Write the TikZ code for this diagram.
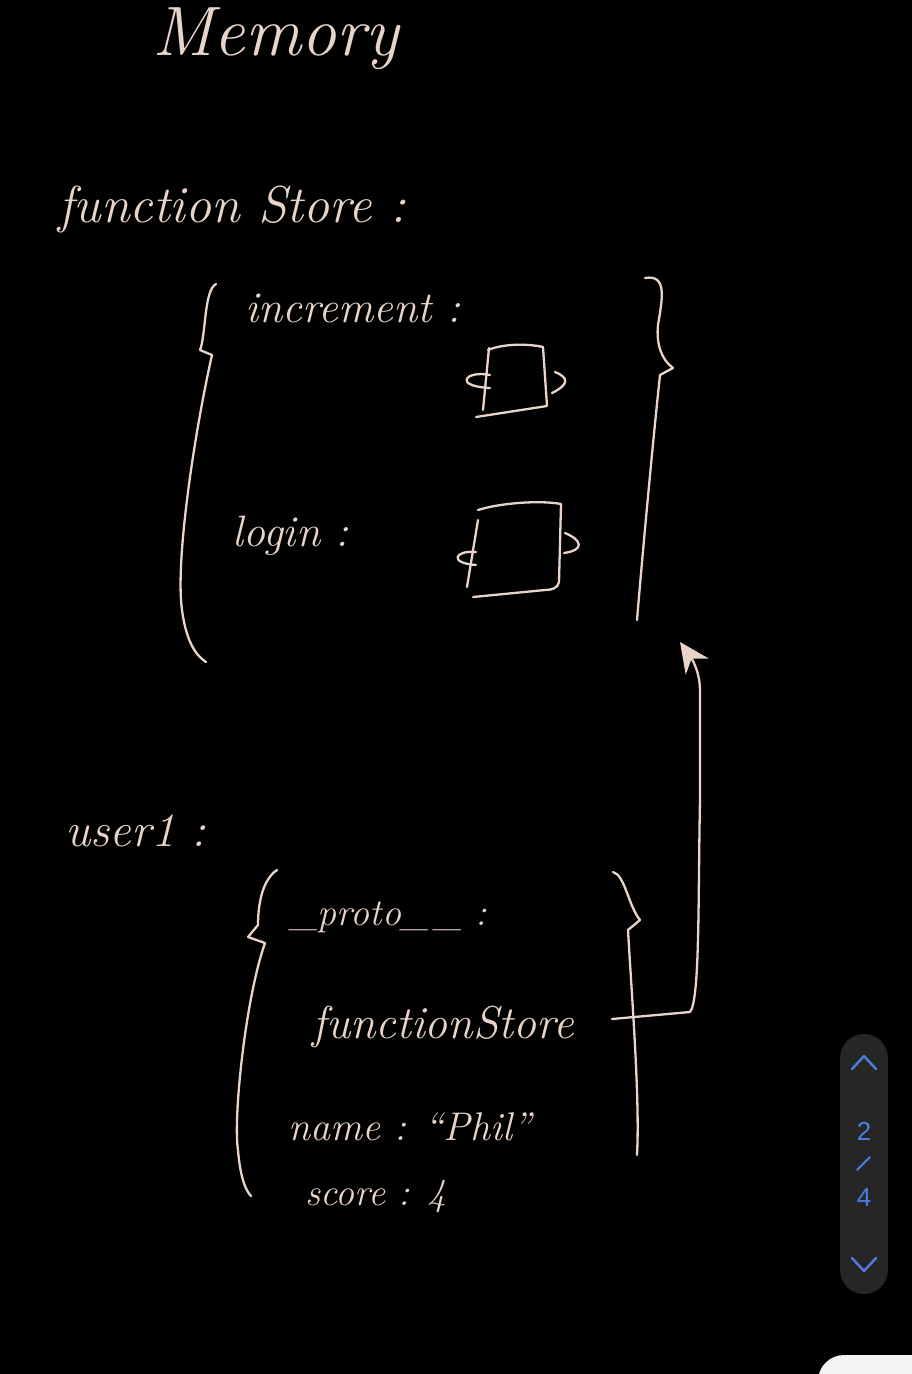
\documentclass[tikz,border=0pt]{standalone}
\usepackage{fontspec}
\usetikzlibrary{arrows.meta}
\newfontfamily\uifont{Liberation Sans}
\definecolor{ink}{HTML}{E8D4C8}
\definecolor{pill}{HTML}{262626}
\definecolor{uiblue}{HTML}{4A7FE0}
\definecolor{sheet}{HTML}{F3F4F6}
\begin{document}
\begin{tikzpicture}[x=1pt,y=-1pt,
  hand/.style={draw=ink, line width=2.3pt, line cap=round, line join=round},
  lbl/.style={text=ink, inner sep=0pt, anchor=base west, font=\fontsize{#1}{#1}\selectfont\itshape},
  uitext/.style={text=uiblue, inner sep=0pt, font=\uifont\fontsize{26}{26}\selectfont},
  chev/.style={draw=uiblue, line width=2.4pt, line cap=round, line join=round}]
\fill[black] (0,0) rectangle (912,1374);
\useasboundingbox (0,0) rectangle (912,1374);

% texts
\node[lbl=70] (memory) at (152,55) {Memory};
\node[lbl=52] (fstitle) at (58,222) {function Store :};
\node[lbl=44] (incr) at (245,322) {increment :};
\node[lbl=44] (login) at (232,546) {login :};
\node[lbl=48] (user) at (65,846) {user1 :};
\node[lbl=38] (proto) at (290,925) {\_proto\_\,\_ :};
\node[lbl=46] (fsref) at (312,1038) {functionStore};
\node[lbl=40] (name) at (288,1140) {name : ``Phil''};
\node[lbl=38] (score) at (305,1205) {score : 4};

% functionStore object braces
\draw[hand] (216,284) .. controls (204,290) and (206,335) .. (200,350) -- (212,355)
  .. controls (195,430) and (175,560) .. (182,610) .. controls (186,640) and (195,655) .. (206,662);
\draw[hand] (645,278) .. controls (668,274) and (662,300) .. (658,325)
  .. controls (656,345) and (662,360) .. (673,368) -- (660,375)
  .. controls (652,450) and (642,560) .. (637,620);

% box 1 (increment)
\draw[hand] (488,350) .. controls (505,343) and (530,344) .. (543,347) -- (547,406) -- (476,417);
\draw[hand] (489,348) -- (483,410);
\draw[hand] (490,375) .. controls (466,370) and (452,386) .. (490,388);
\draw[hand] (555,372) .. controls (570,378) and (568,385) .. (552,393);

% box 2 (login)
\draw[hand] (478,510) .. controls (500,503) and (540,500) .. (561,504) -- (559,582)
  .. controls (558,588) and (552,590) .. (545,590) -- (473,597);
\draw[hand] (478,520) -- (467,587);
\draw[hand] (476,552) .. controls (455,550) and (448,563) .. (476,565);
\draw[hand] (565,533) .. controls (582,540) and (585,550) .. (564,553);

% user1 braces
\draw[hand] (277,870) .. controls (262,880) and (258,905) .. (258,925) -- (248,937) -- (265,943)
  .. controls (245,1000) and (233,1120) .. (238,1150) .. controls (240,1175) and (245,1190) .. (251,1196);
\draw[hand] (613,872) .. controls (625,875) and (628,905) .. (640,920) -- (628,930)
  .. controls (632,1000) and (640,1100) .. (637,1155);

% arrow from functionStore reference to the functionStore object
\coordinate (arrowstart) at (612,1019);
\coordinate (arrowtip) at (680,642);
\draw[hand, -{Stealth[length=30pt,width=28pt]}] (arrowstart) -- (690,1012)
  .. controls (700,1000) and (698,900) .. (700,800) -- (700,690)
  .. controls (700,675) and (694,662) .. (arrowtip);

% viewer UI
\fill[pill, rounded corners=24pt] (840,1034) rectangle (888,1294);
\draw[chev] (852,1069) -- (864,1056) -- (876,1069);
\node[uitext] (pgnum) at (864,1131) {2};
\draw[chev, line width=2pt] (857,1170) -- (870,1157);
\node[uitext] (pgtot) at (864,1198) {4};
\draw[chev] (852,1258) -- (864,1271) -- (876,1258);
\fill[sheet, rounded corners=26pt] (818,1355) rectangle (960,1420);
\end{tikzpicture}
\end{document}
